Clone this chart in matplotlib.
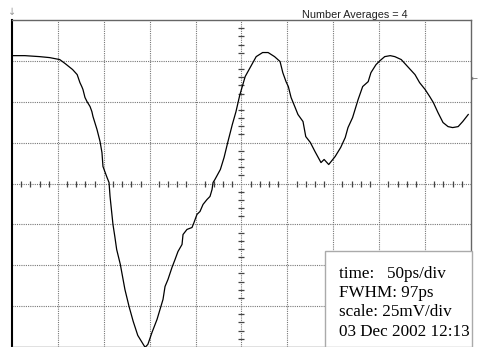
import numpy as np
import matplotlib
matplotlib.use("Agg")
import matplotlib.pyplot as plt

# waveform: time (ps) and voltage (mV)
time_ps = [0, 14, 30, 41, 52, 58, 66, 71, 74, 76, 77.3, 79.5, 81.7, 85, 87, 88.2, 92.6,
           95.9, 98, 99.1, 103.5, 105.7, 106.8, 110, 112, 114, 118, 123, 127.5, 132,
           137, 143, 145, 148, 152.5, 158, 164.5, 166.7, 169.9, 174.3, 177.6, 180.8,
           185.2, 186.3, 190.6, 196.1, 198.3, 201.5, 204.8, 208.1, 212.4, 215.7, 217.9,
           219, 221, 227, 231, 235, 240, 244, 248, 254, 260, 266, 273, 279, 286, 292,
           295, 298.5, 301, 304, 308, 311.5, 317, 320, 325, 330, 336.6, 340, 345, 352,
           358, 363, 366, 371, 377, 382, 388, 391, 396.5, 401, 406, 412, 417, 424, 431,
           439, 444, 450, 455, 459, 464, 469.5, 475, 480, 486, 491, 497]
volt_mV = [78.2, 78.2, 77.6, 77.0, 75.8, 73.3, 69.7, 66.6, 61.7, 59.3, 57.5, 52.6, 50.1,
           47.1, 44.0, 41.0, 33.0, 25.7, 18.9, 10.4, 3.7, 0.6, -7.9, -25.1, -32.4, -40.3,
           -49.5, -64.8, -75.2, -84.3, -92.9, -98.4, -100.2, -98.4, -91.1, -83.1, -70.9,
           -63.0, -58.7, -51.3, -46.5, -41.6, -37.3, -31.2, -28.1, -26.9, -23.8, -18.9,
           -17.1, -12.8, -9.8, -7.9, -3.7, 0.6, 2.4, 8.6, 15.9, 25.1, 36.1, 44.0, 53.8,
           65.4, 71.5, 77.6, 80.1, 80.1, 77.6, 74.6, 67.8, 62.3, 59.3, 52.6, 47.1, 42.2,
           37.9, 28.7, 25.1, 19.6, 12.8, 14.7, 11.6, 16.5, 22.0, 28.1, 34.2, 40.3, 51.3,
           59.3, 62.3, 67.8, 72.7, 75.2, 77.6, 78.2, 77.6, 75.8, 71.5, 66.6, 61.7, 57.5,
           53.2, 49.5, 43.4, 37.3, 34.8, 34.2, 34.8, 37.9, 42.2]

x_grid = [0, 50, 100, 150, 200, 250, 300, 350, 400, 450, 500]
y_grid = [-100, -75, -50, -25, 0, 25, 50, 75, 100]
title_text = "Number Averages = 4"
info_lines = ["time:   50ps/div", "FWHM: 97ps", "scale: 25mV/div", "03 Dec 2002 12:13"]

W, H = 478, 347
fig = plt.figure(figsize=(W / 100, H / 100), dpi=100)
fig.patch.set_facecolor("white")
ax = fig.add_axes([12 / W, 0, (471 - 12) / W, (347 - 20) / H])
ax.set_xlim(0, 500)
ax.set_ylim(-100, 100)
ax.set_xticks([])
ax.set_yticks([])

grid_kw = dict(color="#777777", lw=0.8, ls=(0, (1, 1)), zorder=1)
for gx in x_grid[1:-1]:
    ax.axvline(gx, **grid_kw)
for gy in y_grid[1:-1]:
    ax.axhline(gy, **grid_kw)

# minor tick marks along the centre axes
xt = [t for t in np.arange(10, 500, 10) if t % 50 != 0]
yt = [v for v in np.arange(-95, 100, 5) if v % 25 != 0]
ax.plot(xt, [0] * len(xt), ls="none", marker="|", ms=4, mew=0.9, color="#444444", zorder=2)
ax.plot([250] * len(yt), yt, ls="none", marker="_", ms=4, mew=0.9, color="#444444", zorder=2)

ax.plot(time_ps, volt_mV, color="black", lw=0.9, zorder=3)

for side in ["top", "right", "bottom"]:
    ax.spines[side].set_color("#666666")
    ax.spines[side].set_linewidth(1.0)
ax.spines["left"].set_color("black")
ax.spines["left"].set_linewidth(1.5)

fig.text(355 / W, 1 - 18 / H, title_text, ha="center", va="baseline",
         fontsize=7.8, family="Liberation Sans", color="#222222")

# markers
fig.text(12 / W, 1 - 12 / H, "↓", ha="center", va="center", fontsize=7, color="#999999")
fig.text(474 / W, 1 - 78 / H, "←", ha="center", va="center", fontsize=6, color="#666666")

# info box
bx0, by0 = 325, 251
box = plt.Rectangle((bx0 / W, 0), (472 - bx0) / W, (H - by0) / H, transform=fig.transFigure,
                    facecolor="white", edgecolor="#aaaaaa", lw=1.0, zorder=5)
fig.add_artist(box)
for i, line in enumerate(info_lines):
    fig.text(339 / W, 1 - (278 + i * 19.2) / H, line, ha="left", va="baseline",
             fontsize=12.3, family="Liberation Serif", color="black", zorder=6)

fig.savefig("out.png", dpi=100, facecolor="white")
